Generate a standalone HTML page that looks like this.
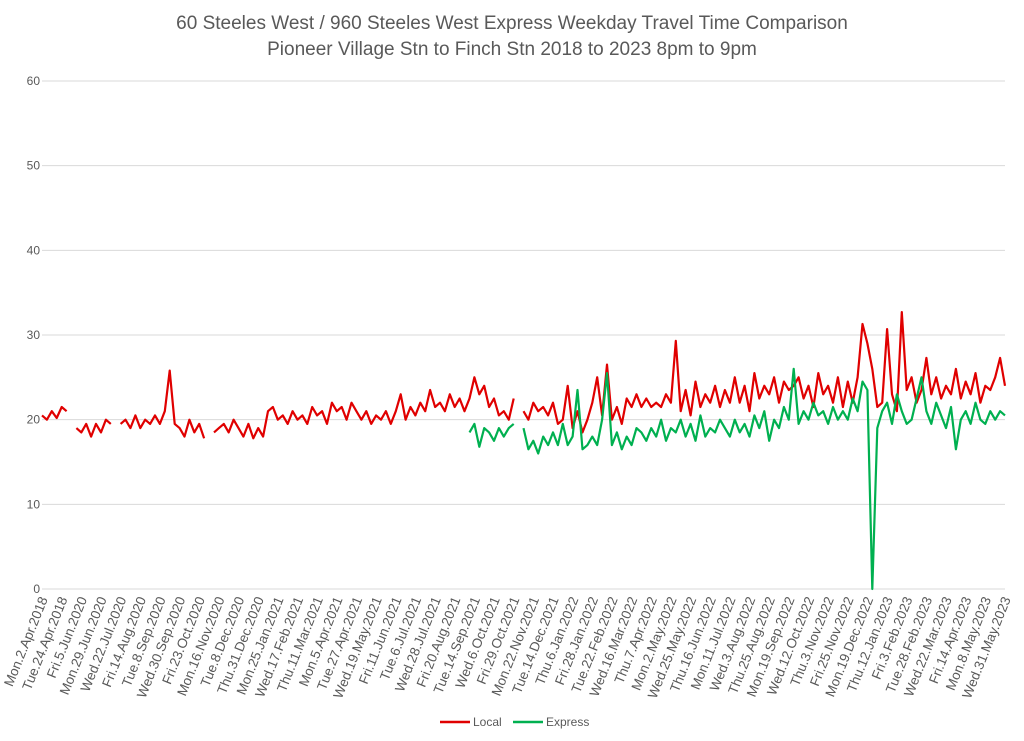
<!DOCTYPE html>
<html><head><meta charset="utf-8"><style>
html,body{margin:0;padding:0;background:#fff}
svg{display:block;font-family:"Liberation Sans",sans-serif}
</style></head><body>
<svg id="chart" width="1024" height="741" viewBox="0 0 1024 741">
<g fill="#595959" font-size="19" text-anchor="middle">
<text x="512" y="29">60 Steeles West / 960 Steeles West Express Weekday Travel Time Comparison</text>
<text x="512" y="55">Pioneer Village Stn to Finch Stn 2018 to 2023 8pm to 9pm</text>
</g>
<g id="grid"></g>
<g id="yaxis"></g>
<g id="xaxis"></g>
<g id="series"></g>
<g font-size="12" fill="#595959">
<g><line x1="440" y1="722" x2="470" y2="722" stroke="#e00000" stroke-width="2.5"/><text x="473" y="726">Local</text></g>
<g><line x1="513" y1="722" x2="543" y2="722" stroke="#00b050" stroke-width="2.5"/><text x="546" y="726">Express</text></g>
</g>
</svg>
<script>
const xLabels=["Mon.2.Apr.2018","Tue.24.Apr.2018","Fri.5.Jun.2020","Mon.29.Jun.2020","Wed.22.Jul.2020","Fri.14.Aug.2020","Tue.8.Sep.2020","Wed.30.Sep.2020","Fri.23.Oct.2020","Mon.16.Nov.2020","Tue.8.Dec.2020","Thu.31.Dec.2020","Mon.25.Jan.2021","Wed.17.Feb.2021","Thu.11.Mar.2021","Mon.5.Apr.2021","Tue.27.Apr.2021","Wed.19.May.2021","Fri.11.Jun.2021","Tue.6.Jul.2021","Wed.28.Jul.2021","Fri.20.Aug.2021","Tue.14.Sep.2021","Wed.6.Oct.2021","Fri.29.Oct.2021","Mon.22.Nov.2021","Tue.14.Dec.2021","Thu.6.Jan.2022","Fri.28.Jan.2022","Tue.22.Feb.2022","Wed.16.Mar.2022","Thu.7.Apr.2022","Mon.2.May.2022","Wed.25.May.2022","Thu.16.Jun.2022","Mon.11.Jul.2022","Wed.3.Aug.2022","Thu.25.Aug.2022","Mon.19.Sep.2022","Wed.12.Oct.2022","Thu.3.Nov.2022","Fri.25.Nov.2022","Mon.19.Dec.2022","Thu.12.Jan.2023","Fri.3.Feb.2023","Tue.28.Feb.2023","Wed.22.Mar.2023","Fri.14.Apr.2023","Mon.8.May.2023","Wed.31.May.2023"];
const yTicks=[0,10,20,30,40,50,60];
const localValues=[20.5,20,21,20.2,21.5,21,null,19,18.5,19.5,18,19.5,18.5,20,19.5,null,
19.5,20,19,20.5,19,20,19.5,20.5,19.5,21,25.8,19.5,19,18,20,18.5,19.5,17.8,null,
18.5,19,19.5,18.5,20,19,18,19.5,17.8,19,18,
21,21.5,20,20.5,19.5,21,20,20.5,19.5,21.5,20.5,21,19.5,22,21,21.5,20,22,21,20,
21,19.5,20.5,20,21,19.5,21,23,20,21.5,20.5,22,21,23.5,21.5,22,21,23,21.5,22.5,21,22.5,
25,23,24,21.5,22.5,20.5,21,20,22.5,null,
21,20,22,21,21.5,20.5,22,19.5,20,24,19,21,18.5,20,22,25,20.5,26.5,20,21.5,19.5,
22.5,21.5,23,21.5,22.5,21.5,22,21.5,23,22,29.3,21,23.5,20.5,24.5,21.5,23,22,24,21.5,23.5,22,
25,22,24,21,25.5,22.5,24,23,25,22,24.5,23.5,24,25,22.5,24,21.5,25.5,23,24,22,25,21.5,24.5,22,25,
31.3,29,26,21.5,22,30.7,23,21,32.7,23.5,25,22,23.5,27.3,23,25,22.5,24,23,26,22.5,24.5,23,25.5,22,24,23.5,25,27.3,24];
const expressValues=[null,null,null,null,null,null,null,null,null,null,null,null,null,null,null,null,null,null,null,null,
null,null,null,null,null,null,null,null,null,null,null,null,null,null,null,null,null,null,null,null,
null,null,null,null,null,null,null,null,null,null,null,null,null,null,null,null,null,null,null,null,
null,null,null,null,null,null,null,null,null,null,null,null,null,null,null,null,null,null,null,null,
null,null,null,null,null,null,null,
18.5,19.5,16.8,19,18.5,17.5,19,18,19,19.5,null,
19,16.5,17.5,16,18,17,18.5,17,19.5,17,18,23.5,16.5,17,18,17,20,25.5,17,18.5,16.5,
18,17,19,18.5,17.5,19,18,20,17.5,19,18.5,20,18,19.5,17.5,20.5,18,19,18.5,20,19,18,
20,18.5,19.5,18,20.5,19,21,17.5,20,19,21.5,20,26,19.5,21,20,22,20.5,21,19.5,21.5,20,21,20,22.5,21,24.5,23.5,
0,
19,21,22,19.5,23,21,19.5,20,22.5,25,21,19.5,22,20.5,19,21.5,16.5,20,21,19.5,22,20,19.5,21,20,21,20.5];

const NS="http://www.w3.org/2000/svg";
const X0=42,X1=1005,Y0=589,Y60=81;
const nPts=localValues.length;
function xs(i){return X0+i*(X1-X0)/(nPts-1);}
function ys(v){return Y0-v*(Y0-Y60)/60;}
function mk(t,a,p){const e=document.createElementNS(NS,t);for(const k in a)e.setAttribute(k,a[k]);p.appendChild(e);return e;}
const grid=document.getElementById('grid'),yax=document.getElementById('yaxis'),xax=document.getElementById('xaxis'),ser=document.getElementById('series');
yTicks.forEach(v=>{
  const l=mk('line',{x1:X0,x2:X1,y1:ys(v),y2:ys(v),stroke:'#d9d9d9','stroke-width':1},grid);
  
  
  const t=mk('text',{x:40,y:ys(v)+4,'text-anchor':'end','font-size':12,fill:'#595959'},yax);
  t.textContent=v;
  
  
});
const step=(nPts-1)/(xLabels.length-1);
xLabels.forEach((s,k)=>{
  const x=xs(k*step)+6,y=599;
  const t=mk('text',{x:x,y:y,'text-anchor':'end','font-size':13.5,fill:'#595959',transform:'rotate(-68 '+x+' '+y+')'},xax);
  t.textContent=s;
  
  
});
function draw(vals,color,name){
  let d='',pen=false;
  vals.forEach((v,i)=>{
    if(v===null){pen=false;return;}
    d+=(pen?'L':'M')+xs(i).toFixed(1)+' '+ys(v).toFixed(1)+' ';pen=true;
  });
  const p=mk('path',{d:d,fill:'none',stroke:color,'stroke-width':2.2,'stroke-linejoin':'round'},ser);
  
  
}
draw(localValues,'#e00000','local-line');
draw(expressValues,'#00b050','express-line');
</script>
</body></html>
